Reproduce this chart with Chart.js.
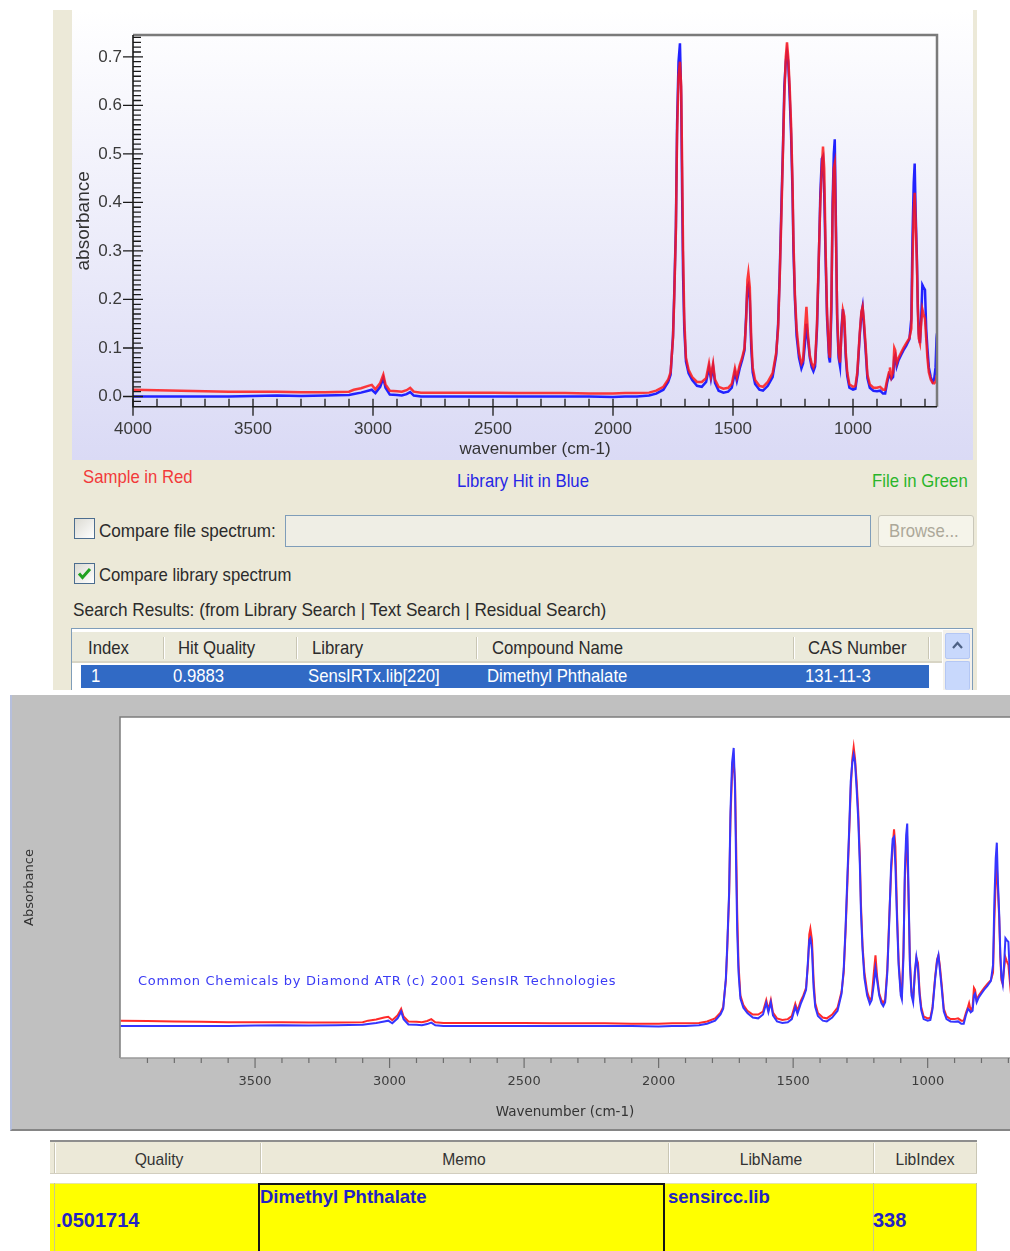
<!DOCTYPE html>
<html><head><meta charset="utf-8">
<script src="https://cdn.jsdelivr.net/npm/chart.js@4.4.1/dist/chart.umd.min.js"></script>
<style>
html,body{margin:0;padding:0;background:#fff;}
body{width:1010px;height:1251px;position:relative;overflow:hidden;font-family:'Liberation Sans',Arial,sans-serif;}
.abs{position:absolute;box-sizing:border-box;}
.t{position:absolute;white-space:nowrap;font-size:19px;line-height:22px;color:#2b2b2b;transform:scaleX(.88);transform-origin:0 50%;}
.w{color:#fff;}
.b{position:absolute;white-space:nowrap;font-weight:bold;color:#2323c4;line-height:24px;}
.sep{position:absolute;width:1px;background:#c9c6b4;border-right:1px solid #fff;}
.h{position:absolute;white-space:nowrap;font-size:17px;line-height:22px;color:#333;transform:translateX(-50%) scaleX(.92);}
</style></head><body>

<!-- top panel -->
<div class="abs" style="left:53px;top:10px;width:924px;height:680px;background:#ece9d8;"></div>
<div class="abs" style="left:72px;top:10px;width:901px;height:450px;background:linear-gradient(#ffffff,#dadaf5);"></div>
<canvas id="c1" class="abs" width="901" height="450" style="left:72px;top:10px;"></canvas>

<div class="t" style="left:83px;top:466px;color:#f23a3a;">Sample in Red</div>
<div class="t" style="left:457px;top:470px;color:#2626e6;">Library Hit in Blue</div>
<div class="t" style="left:872px;top:470px;color:#2ab52a;">File in Green</div>

<div class="abs" style="left:74px;top:518px;width:21px;height:21px;border:1px solid #4c6d8f;background:linear-gradient(135deg,#dcdbd3,#ffffff);"></div>
<div class="t" style="left:99px;top:520px;transform:scaleX(.9);">Compare file spectrum:</div>
<div class="abs" style="left:285px;top:515px;width:586px;height:32px;border:1px solid #7f9db9;background:#efeee5;"></div>
<div class="abs" style="left:878px;top:515px;width:96px;height:32px;border:1px solid #c9c7ba;border-radius:3px;background:#f5f4ea;"></div>
<div class="t" style="left:889px;top:520px;color:#aca899;">Browse...</div>

<div class="abs" style="left:74px;top:563px;width:21px;height:21px;border:1px solid #4c6d8f;background:linear-gradient(135deg,#dcdbd3,#ffffff);">
<svg width="19" height="19" style="position:absolute;left:0;top:0"><polyline points="4,9.5 7.5,13.5 15,5" fill="none" stroke="#21a121" stroke-width="3"/></svg></div>
<div class="t" style="left:99px;top:564px;">Compare library spectrum</div>
<div class="t" style="left:73px;top:599px;transform:scaleX(.905);">Search Results: (from Library Search | Text Search | Residual Search)</div>

<div class="abs" style="left:71px;top:628px;width:902px;height:62px;border:1px solid #7f9db9;border-bottom:none;background:#fff;"></div>
<div class="abs" style="left:72px;top:632px;width:870px;height:31px;background:#ebeadb;border-bottom:2px solid #d8d5c5;"></div>
<div class="sep" style="left:163px;top:637px;height:22px;"></div>
<div class="sep" style="left:296px;top:637px;height:22px;"></div>
<div class="sep" style="left:476px;top:637px;height:22px;"></div>
<div class="sep" style="left:793px;top:637px;height:22px;"></div>
<div class="sep" style="left:928px;top:637px;height:22px;"></div>
<div class="t" style="left:88px;top:637px;">Index</div>
<div class="t" style="left:178px;top:637px;">Hit Quality</div>
<div class="t" style="left:312px;top:637px;">Library</div>
<div class="t" style="left:492px;top:637px;">Compound Name</div>
<div class="t" style="left:808px;top:637px;">CAS Number</div>
<div class="abs" style="left:81px;top:665px;width:848px;height:23px;background:#316ac5;"></div>
<div class="t w" style="left:91px;top:665px;">1</div>
<div class="t w" style="left:173px;top:665px;">0.9883</div>
<div class="t w" style="left:308px;top:665px;">SensIRTx.lib[220]</div>
<div class="t w" style="left:487px;top:665px;">Dimethyl Phthalate</div>
<div class="t w" style="left:805px;top:665px;">131-11-3</div>
<div class="abs" style="left:943px;top:630px;width:29px;height:60px;background:#f3f1ec;"></div>
<div class="abs" style="left:945px;top:633px;width:25px;height:26px;background:#c8d8fc;border:1px solid #b4c7f4;border-radius:2px;">
<svg width="23" height="24" style="position:absolute;left:0;top:0"><polyline points="7,14 11.5,9 16,14" fill="none" stroke="#4d6185" stroke-width="2.2"/></svg></div>
<div class="abs" style="left:945px;top:661px;width:25px;height:29px;background:#c8d8fc;border:1px solid #b4c7f4;border-bottom:none;border-radius:2px;"></div>

<!-- middle panel -->
<div class="abs" style="left:10px;top:695px;width:1000px;height:436px;background:#c0c0c0;border-left:2px solid #b6bfdc;border-bottom:2px solid #858585;"></div>
<canvas id="c2" class="abs" width="1000" height="435" style="left:10px;top:695px;"></canvas>
<div class="abs" style="left:138px;top:973px;white-space:nowrap;font-family:'DejaVu Sans';font-size:13px;line-height:16px;letter-spacing:0.7px;color:#3b3bf5;">Common Chemicals by Diamond ATR (c) 2001 SensIR Technologies</div>

<!-- bottom table -->
<div class="abs" style="left:50px;top:1140px;width:927px;height:34px;background:#ece9d8;border-top:2px solid #8e8e8e;border-bottom:1px solid #d2cebf;"></div>
<div class="sep" style="left:54px;top:1143px;height:30px;"></div>
<div class="sep" style="left:260px;top:1143px;height:30px;"></div>
<div class="sep" style="left:668px;top:1143px;height:30px;"></div>
<div class="sep" style="left:873px;top:1143px;height:30px;"></div>
<div class="sep" style="left:976px;top:1143px;height:30px;"></div>
<div class="h" style="left:159px;top:1149px;">Quality</div>
<div class="h" style="left:464px;top:1149px;">Memo</div>
<div class="h" style="left:771px;top:1149px;">LibName</div>
<div class="h" style="left:925px;top:1149px;">LibIndex</div>

<div class="abs" style="left:50px;top:1183px;width:927px;height:68px;background:#ffff00;border-top:1px solid #e6e6a0;"></div>
<div class="abs" style="left:54px;top:1183px;width:1px;height:68px;background:#c9c98a;"></div>
<div class="abs" style="left:873px;top:1183px;width:1px;height:68px;background:#c9c98a;"></div>
<div class="abs" style="left:976px;top:1183px;width:1px;height:68px;background:#c9c98a;"></div>
<div class="abs" style="left:258px;top:1183px;width:407px;height:70px;border:2px solid #151515;"></div>
<div class="b" style="left:56px;top:1208px;font-size:20px;">.0501714</div>
<div class="b" style="left:260px;top:1185px;font-size:18.5px;">Dimethyl Phthalate</div>
<div class="b" style="left:668px;top:1185px;font-size:18.5px;">sensircc.lib</div>
<div class="b" style="left:873px;top:1208px;font-size:20px;">338</div>

<script>
// ---- data ----
const wavenumbers = [4000,3900,3800,3700,3600,3500,3400,3300,3200,3100,3080,3050,3020,3005,2990,2970,2957,2948,2930,2900,2880,2860,2845,2830,2800,2700,2600,2500,2400,2300,2200,2100,2000,1950,1900,1850,1820,1790,1770,1760,1750,1745,1738,1733,1727,1721,1716,1712,1708,1703,1696,1685,1670,1650,1630,1612,1600,1592,1583,1575,1560,1540,1520,1505,1492,1484,1472,1462,1452,1445,1440,1436,1430,1424,1418,1408,1390,1375,1355,1335,1320,1312,1305,1298,1292,1286,1280,1275,1270,1264,1258,1252,1248,1242,1235,1225,1215,1208,1200,1194,1188,1180,1172,1165,1158,1150,1143,1136,1130,1125,1120,1114,1108,1100,1096,1090,1085,1080,1076,1071,1066,1060,1054,1048,1042,1036,1030,1024,1015,1000,990,982,972,965,960,955,948,940,930,915,900,887,875,866,858,850,846,840,833,828,824,818,810,800,790,778,765,757,752,747,743,739,734,730,726,721,716,711,706,700,695,690,684,676,668,662,656,652,650];
const sampleAbs = [.014,.013,.012,.011,.010,.010,.010,.009,.009,.010,.014,.017,.022,.024,.015,.028,.045,.025,.012,.011,.010,.013,.018,.010,.008,.008,.008,.008,.007,.007,.007,.006,.006,.007,.007,.008,.012,.020,.035,.050,.120,.200,.340,.540,.660,.690,.640,.480,.300,.160,.080,.055,.040,.030,.030,.038,.068,.042,.068,.035,.020,.016,.018,.026,.058,.040,.065,.080,.100,.160,.240,.255,.225,.120,.060,.034,.022,.020,.030,.048,.090,.140,.250,.380,.500,.620,.700,.730,.700,.640,.560,.440,.320,.210,.140,.090,.068,.075,.140,.185,.130,.085,.068,.060,.070,.150,.280,.400,.470,.515,.470,.300,.170,.090,.080,.200,.380,.470,.480,.330,.170,.090,.070,.130,.178,.165,.090,.050,.025,.020,.022,.050,.130,.175,.185,.160,.110,.045,.025,.018,.018,.020,.014,.014,.034,.050,.060,.040,.050,.100,.095,.068,.080,.090,.100,.110,.120,.140,.280,.380,.420,.360,.280,.180,.120,.110,.150,.180,.170,.160,.120,.080,.050,.035,.028,.027,.030,.040,.045];
const libraryAbs = [.000,.000,.000,.000,.000,.001,.002,.001,.002,.003,.005,.008,.012,.014,.007,.020,.038,.018,.004,.003,.002,.005,.009,.002,.000,.000,.000,.000,.000,.000,.000,.000,-.001,.000,.000,.002,.006,.014,.030,.045,.125,.210,.350,.560,.690,.728,.620,.420,.250,.140,.072,.048,.034,.022,.020,.030,.060,.036,.062,.028,.012,.008,.010,.018,.050,.032,.058,.075,.095,.170,.225,.230,.200,.100,.050,.026,.014,.012,.022,.040,.085,.150,.260,.400,.510,.640,.690,.710,.690,.620,.540,.420,.300,.200,.125,.080,.058,.068,.110,.150,.120,.080,.060,.052,.062,.140,.270,.420,.490,.495,.420,.280,.160,.080,.070,.180,.400,.500,.530,.350,.160,.080,.062,.140,.180,.150,.080,.042,.018,.014,.016,.044,.125,.170,.185,.150,.100,.038,.018,.012,.011,.012,.006,.006,.028,.045,.042,.036,.040,.080,.085,.062,.075,.085,.095,.105,.118,.160,.330,.440,.480,.380,.290,.190,.130,.110,.160,.230,.225,.220,.140,.100,.060,.040,.030,.035,.060,.120,.130];
const topXTicks = [4000,3500,3000,2500,2000,1500,1000];
const topYTicks = [0,0.1,0.2,0.3,0.4,0.5,0.6,0.7];
const midXTicks = [3500,3000,2500,2000,1500,1000];

const pts = arr => wavenumbers.map((w,i)=>({x:w,y:arr[i]}));
Chart.defaults.font.family = "'Liberation Sans', Arial, sans-serif";

const topFrame = {
  id:'topFrame',
  afterDraw(chart){
    const {ctx, chartArea:a, scales:{x,y}} = chart;
    ctx.save();
    ctx.lineCap='butt';
    ctx.strokeStyle='#7a7a7a'; ctx.lineWidth=2.5;
    ctx.beginPath(); ctx.moveTo(a.left,a.top); ctx.lineTo(a.right,a.top); ctx.lineTo(a.right,a.bottom); ctx.stroke();
    ctx.strokeStyle='#1a1a1a'; ctx.lineWidth=1.6;
    ctx.beginPath(); ctx.moveTo(a.left,a.top); ctx.lineTo(a.left,a.bottom); ctx.lineTo(a.right,a.bottom); ctx.stroke();
    ctx.lineWidth=1.3; ctx.beginPath();
    for(let v=4000; v>=x.min; v-=100){
      const px=x.getPixelForValue(v), major=(v%500===0);
      ctx.moveTo(px,a.bottom-8); ctx.lineTo(px, major? a.bottom+9 : a.bottom);
    }
    for(let i=-1;i<=74;i++){
      const py=y.getPixelForValue(i/100), major=(i%10===0);
      ctx.moveTo(major? a.left-10 : a.left, py); ctx.lineTo(a.left+(major?10:8), py);
    }
    ctx.stroke();
    ctx.restore();
  }
};

const midFrame = {
  id:'midFrame',
  beforeDraw(chart){
    const {ctx, chartArea:a} = chart;
    ctx.save(); ctx.fillStyle='#ffffff';
    ctx.fillRect(a.left,a.top,a.right-a.left,a.bottom-a.top); ctx.restore();
  },
  afterDraw(chart){
    const {ctx, chartArea:a, scales:{x}} = chart;
    ctx.save();
    ctx.strokeStyle='#7c7c7c'; ctx.lineWidth=1.5;
    ctx.beginPath(); ctx.moveTo(a.left,a.bottom); ctx.lineTo(a.left,a.top); ctx.lineTo(a.right,a.top); ctx.stroke();
    ctx.strokeStyle='#9a9a9a'; ctx.beginPath(); ctx.moveTo(a.left,a.bottom); ctx.lineTo(a.right,a.bottom); ctx.stroke();
    ctx.strokeStyle='#6e6e6e'; ctx.lineWidth=1.2; ctx.beginPath();
    for(let v=3900; v>=x.min; v-=100){
      const px=x.getPixelForValue(v), major=(v%500===0);
      ctx.moveTo(px,a.bottom); ctx.lineTo(px,a.bottom+(major?10:5));
    }
    ctx.stroke(); ctx.restore();
  }
};

new Chart(document.getElementById('c1'), {
  type:'line',
  data:{datasets:[
    {label:'Sample in Red', data:pts(sampleAbs), borderColor:'rgba(255,25,25,0.85)', borderWidth:2.5, order:0},
    {label:'Library Hit in Blue', data:pts(libraryAbs), borderColor:'#2222ff', borderWidth:2.5, order:1}
  ]},
  options:{
    responsive:false, animation:false, devicePixelRatio:1,
    layout:{padding:{top:25,right:36,left:0,bottom:0}},
    plugins:{legend:{display:false}, tooltip:{enabled:false}},
    elements:{point:{radius:0}, line:{tension:0}},
    scales:{
      x:{type:'linear', reverse:true, min:650, max:4000,
        afterFit(s){s.height=53.3;},
        afterBuildTicks(s){s.ticks=topXTicks.map(v=>({value:v}));},
        grid:{display:false, drawTicks:false}, border:{display:false},
        ticks:{autoSkip:false, maxRotation:0, padding:12, color:'#3a3a3a', font:{size:17}, callback:v=>String(v)},
        title:{display:true, text:'wavenumber (cm-1)', color:'#333', font:{size:17}, padding:{top:0,bottom:0}}
      },
      y:{min:-0.021, max:0.745,
        afterFit(s){s.width=61;},
        afterBuildTicks(s){s.ticks=topYTicks.map(v=>({value:v}));},
        grid:{display:false, drawTicks:false}, border:{display:false},
        ticks:{padding:11, color:'#3a3a3a', font:{size:17}, callback:v=>Number(v).toFixed(1)},
        title:{display:true, text:'absorbance', color:'#333', font:{size:19}, padding:{top:0,bottom:0}}
      }
    }
  },
  plugins:[topFrame]
});

new Chart(document.getElementById('c2'), {
  type:'line',
  data:{datasets:[
    {label:'Library', data:pts(libraryAbs), borderColor:'#3535ff', borderWidth:2, order:0},
    {label:'Sample', data:pts(sampleAbs), borderColor:'#ff2a2a', borderWidth:2, order:1}
  ]},
  options:{
    responsive:false, animation:false, devicePixelRatio:1,
    layout:{padding:{top:22,right:0,left:0,bottom:0}},
    plugins:{legend:{display:false}, tooltip:{enabled:false}},
    elements:{point:{radius:0}, line:{tension:0}},
    scales:{
      x:{type:'linear', reverse:true, min:694, max:4002,
        afterFit(s){s.height=72;},
        afterBuildTicks(s){s.ticks=midXTicks.map(v=>({value:v}));},
        grid:{display:false, drawTicks:false}, border:{display:false},
        ticks:{autoSkip:false, maxRotation:0, padding:16, color:'#3c3c3c', font:{family:'DejaVu Sans', size:13}, callback:v=>String(v)},
        title:{display:true, text:'Wavenumber (cm-1)', color:'#333', font:{family:'DejaVu Sans', size:13.5}, padding:{top:0,bottom:9}}
      },
      y:{min:-0.0838, max:0.809,
        afterFit(s){s.width=110;},
        grid:{display:false, drawTicks:false}, border:{display:false},
        ticks:{display:false},
        title:{display:true, text:'Absorbance', color:'#333', font:{family:'DejaVu Sans', size:13}, padding:{top:12,bottom:0}}
      }
    }
  },
  plugins:[midFrame]
});
</script>
</body></html>
